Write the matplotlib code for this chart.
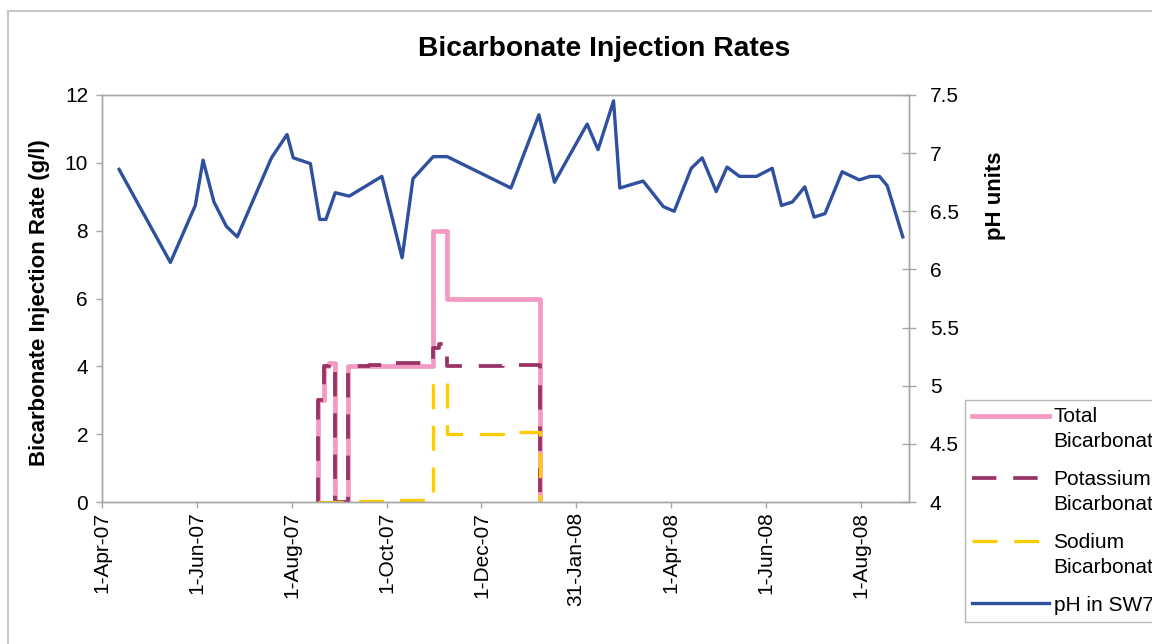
import numpy as np
import matplotlib
matplotlib.use("Agg")
import matplotlib.pyplot as plt
from matplotlib.legend_handler import HandlerLine2D
from matplotlib.patches import Rectangle
from matplotlib.ticker import FuncFormatter
from datetime import datetime

plt.rcParams['font.family'] = ['Liberation Sans', 'DejaVu Sans']


def to_dates(labels):
    return [datetime.strptime(s, '%d-%b-%y') for s in labels]


# bicarbonate dosing rates (g/l), one entry per change in rate
total_dates = ['18-Aug-07', '18-Aug-07', '22-Aug-07', '25-Aug-07', '29-Aug-07',
               '6-Sep-07', '31-Oct-07', '9-Nov-07', '8-Jan-08']
total_rate = [0, 3.0, 4.0, 4.1, 0, 4.0, 8.0, 6.0, 0]

potassium_dates = ['18-Aug-07', '18-Aug-07', '22-Aug-07', '25-Aug-07', '29-Aug-07',
                   '6-Sep-07', '20-Sep-07', '4-Oct-07', '31-Oct-07', '4-Nov-07',
                   '9-Nov-07', '15-Dec-07', '8-Jan-08']
potassium_rate = [0, 3.0, 4.0, 4.1, 0, 4.0, 4.05, 4.1, 4.55, 4.65, 4.0, 4.05, 0]

sodium_dates = ['18-Aug-07', '6-Sep-07', '1-Oct-07', '31-Oct-07', '4-Nov-07',
                '9-Nov-07', '15-Dec-07', '8-Jan-08']
sodium_rate = [0, 0.02, 0.05, 3.45, 3.55, 2.0, 2.05, 0]

# pH measured in SW75
ph_dates = ['12-Apr-07', '15-May-07', '31-May-07', '5-Jun-07', '12-Jun-07', '20-Jun-07',
            '27-Jun-07', '19-Jul-07', '29-Jul-07', '2-Aug-07', '13-Aug-07', '19-Aug-07',
            '23-Aug-07', '29-Aug-07', '7-Sep-07', '28-Sep-07', '11-Oct-07', '18-Oct-07',
            '31-Oct-07', '9-Nov-07', '20-Dec-07', '7-Jan-08', '17-Jan-08', '7-Feb-08',
            '14-Feb-08', '24-Feb-08', '28-Feb-08', '14-Mar-08', '27-Mar-08', '3-Apr-08',
            '14-Apr-08', '21-Apr-08', '30-Apr-08', '7-May-08', '15-May-08', '26-May-08',
            '5-Jun-08', '11-Jun-08', '18-Jun-08', '26-Jun-08', '2-Jul-08', '9-Jul-08',
            '20-Jul-08', '31-Jul-08', '7-Aug-08', '13-Aug-08', '18-Aug-08', '28-Aug-08']
ph_values = [6.86, 6.06, 6.55, 6.94, 6.58, 6.37, 6.28, 6.96, 7.16, 6.96, 6.91, 6.43,
             6.43, 6.66, 6.63, 6.80, 6.10, 6.78, 6.97, 6.97, 6.70, 7.33, 6.75, 7.25,
             7.03, 7.45, 6.70, 6.76, 6.54, 6.50, 6.87, 6.96, 6.67, 6.88, 6.80, 6.80,
             6.87, 6.55, 6.58, 6.71, 6.45, 6.48, 6.84, 6.77, 6.80, 6.80, 6.72, 6.28]

tick_dates = ['1-Apr-07', '1-Jun-07', '1-Aug-07', '1-Oct-07', '1-Dec-07',
              '31-Jan-08', '1-Apr-08', '1-Jun-08', '1-Aug-08']
tick_labels = ['1-Apr-07', '1-Jun-07', '1-Aug-07', '1-Oct-07', '1-Dec-07',
               '31-Jan-08', '1-Apr-08', '1-Jun-08', '1-Aug-08']


class FirstLineHandler(HandlerLine2D):
    """Legend handle lifted up to sit beside the first line of a two-line label."""

    def __init__(self, shift, **kw):
        super().__init__(**kw)
        self.shift = shift

    def create_artists(self, legend, orig_handle, xdescent, ydescent, width,
                       height, fontsize, trans):
        artists = super().create_artists(legend, orig_handle, xdescent, ydescent,
                                         width, height, fontsize, trans)
        for a in artists:
            a.set_ydata(np.asarray(a.get_ydata()) + self.shift)
        return artists


W, H = 1152, 644
grey = '#a6a6a6'

fig = plt.figure(figsize=(W / 100, H / 100), dpi=100, facecolor='white')
fig.patches.append(Rectangle((8 / W, -0.1), 2, 1.1 - 11 / H, transform=fig.transFigure,
                             fill=False, edgecolor='#c8c8c8', lw=1.5))

ax = fig.add_axes([102 / W, 1 - 502 / H, (909 - 102) / W, (502 - 95) / H])
ax2 = ax.twinx()

l_total, = ax.plot(to_dates(total_dates), total_rate, drawstyle='steps-post',
                   color='#F49AC2', lw=3.4, label='Total\nBicarbonate')
l_pot, = ax.plot(to_dates(potassium_dates), potassium_rate, drawstyle='steps-post',
                 color='#993366', lw=2.7, dashes=(6.5, 4.5), label='Potassium\nBicarbonate')
l_sod, = ax.plot(to_dates(sodium_dates), sodium_rate, drawstyle='steps-post',
                 color='#FFCC00', lw=2.4, dashes=(7.5, 5), label='Sodium\nBicarbonate')
l_ph, = ax2.plot(to_dates(ph_dates), ph_values, color='#2F4F9F', lw=2.4,
                 solid_joinstyle='round', label='pH in SW75')

ax.set_xlim(datetime(2007, 4, 1), datetime(2008, 9, 1))
ax.set_ylim(0, 12)
ax.set_yticks(range(0, 13, 2))
ax2.set_ylim(4, 7.5)
ax2.set_yticks(np.arange(4, 7.51, 0.5))
ax2.yaxis.set_major_formatter(FuncFormatter(lambda v, p: '%g' % v))

ax.set_xticks(to_dates(tick_dates))
ax.set_xticklabels(tick_labels, rotation=90)

for a in (ax, ax2):
    for s in a.spines.values():
        s.set_color(grey)
        s.set_linewidth(1.0)
ax.tick_params(axis='y', direction='out', length=4, width=1, color=grey,
               labelsize=15, pad=6)
ax.tick_params(axis='x', direction='out', length=4, width=1, color=grey,
               labelsize=15, pad=3)
ax2.tick_params(axis='y', direction='inout', length=10, width=1, color=grey,
                labelsize=15, pad=10)

ax.set_ylabel('Bicarbonate Injection Rate (g/l)', fontsize=16, fontweight='bold')
ax.yaxis.set_label_coords(-0.064, 0.49)
fig.text(996 / W, 1 - 196 / H, 'pH units', rotation=90, fontsize=16,
         fontweight='bold', ha='center', va='center')
fig.text(604 / W, 1 - 49 / H, 'Bicarbonate Injection Rates', fontsize=20.3,
         fontweight='bold', ha='center', va='center')

lift = FirstLineHandler(10.0)
leg = fig.legend([l_total, l_pot, l_sod, l_ph],
                 [l.get_label() for l in (l_total, l_pot, l_sod, l_ph)],
                 loc='upper left', bbox_to_anchor=(965 / W, 1 - 400 / H),
                 fontsize=15, frameon=True, fancybox=False, edgecolor=grey,
                 borderpad=0.35, borderaxespad=0, handlelength=3.7,
                 handletextpad=0.2, labelspacing=0.9,
                 handler_map={l_total: lift, l_pot: lift, l_sod: lift})
leg.get_frame().set_linewidth(1.0)
for t in leg.get_texts():
    t.set_linespacing(1.4)

fig.savefig('out.png', dpi=100, facecolor='white')
